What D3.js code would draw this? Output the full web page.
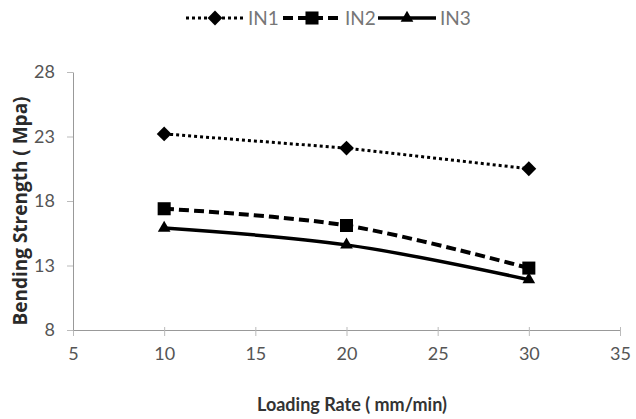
<!DOCTYPE html>
<html>
<head>
<meta charset="utf-8">
<script src="https://cdn.jsdelivr.net/npm/d3@7"></script>
<style>
  body { margin: 0; background: #fff; }
  svg text { font-family: Lato, "Liberation Sans", sans-serif; }
</style>
</head>
<body>
<div id="chart"></div>
<script>
// data
const rates = [10, 20, 30];
const in1 = [23.2, 22.1, 20.5];
const in2 = [17.4, 16.1, 12.8];
const in3 = [15.9, 14.6, 11.9];
const xTicks = [5, 10, 15, 20, 25, 30, 35];
const yTicks = [8, 13, 18, 23, 28];

const W = 636, H = 419;
const margin = {top: 72, right: 16, bottom: 89, left: 73};

const svg = d3.select("#chart")
  .append("svg")
    .attr("width", W)
    .attr("height", H);

const x = d3.scaleLinear().domain([5, 35]).range([margin.left, W - margin.right]);
const y = d3.scaleLinear().domain([8, 28]).range([H - margin.bottom, margin.top]);

// X axis
const gx = svg.append("g")
  .attr("transform", `translate(0, ${y(8)})`)
  .call(d3.axisBottom(x).tickValues(xTicks).tickSize(6).tickSizeOuter(0).tickPadding(11));
gx.select(".domain").attr("stroke", "#999");
gx.selectAll(".tick line").attr("stroke", "#bbb").attr("y1", -3);
gx.selectAll("text").attr("fill", "#555").style("font-size", "18px");

// Y axis
const gy = svg.append("g")
  .attr("transform", `translate(${x(5)}, 0)`)
  .call(d3.axisLeft(y).tickValues(yTicks).tickSize(6).tickSizeOuter(0).tickPadding(12));
gy.select(".domain").attr("stroke", "#999");
gy.selectAll(".tick line").attr("stroke", "#bbb");
gy.selectAll("text").attr("fill", "#555").style("font-size", "18px");

// axis titles
svg.append("text")
  .attr("x", 352)
  .attr("y", 411)
  .attr("text-anchor", "middle")
  .attr("fill", "#333")
  .style("font-size", "18px")
  .style("font-weight", "bold")
  .text("Loading Rate ( mm/min)");

svg.append("text")
  .attr("transform", `translate(27, 211) rotate(-90)`)
  .attr("text-anchor", "middle")
  .attr("fill", "#2a2a2a")
  .style("font-family", "'Open Sans', sans-serif")
  .style("font-size", "19px")
  .style("font-weight", "bold")
  .text("Bending Strength ( Mpa)");

const diamond = {draw(ctx, size) { const r = Math.sqrt(size) / 2 * 1.3; ctx.moveTo(0, -r); ctx.lineTo(r, 0); ctx.lineTo(0, r); ctx.lineTo(-r, 0); ctx.closePath(); }};

const series = [
  {name: "IN1", values: in1, dash: "3,3", width: 3, symbol: diamond, size: 130, curve: d3.curveLinear},
  {name: "IN2", values: in2, dash: "10,5", width: 4, symbol: d3.symbolSquare, size: 170, curve: d3.curveCatmullRom},
  {name: "IN3", values: in3, dash: null, width: 3.5, symbol: d3.symbolTriangle, size: 70, curve: d3.curveCatmullRom}
];

series.forEach(s => {
  const pts = rates.map((r, i) => [r, s.values[i]]);
  svg.append("path")
    .datum(pts)
    .attr("fill", "none")
    .attr("stroke", "#000")
    .attr("stroke-width", s.width)
    .attr("stroke-dasharray", s.dash)
    .attr("d", d3.line().x(d => x(d[0])).y(d => y(d[1])).curve(s.curve));

  svg.selectAll(null)
    .data(pts)
    .join("path")
    .attr("transform", d => `translate(${x(d[0])}, ${y(d[1])})`)
    .attr("d", d3.symbol().type(s.symbol).size(s.size))
    .attr("fill", "#000");
});

// legend
const legendX = [186, 283, 378];
series.forEach((s, i) => {
  const g = svg.append("g").attr("transform", `translate(${legendX[i]}, 18)`);
  g.append("line")
    .attr("x1", 0).attr("x2", 58)
    .attr("stroke", "#000")
    .attr("stroke-width", s.width)
    .attr("stroke-dasharray", s.dash);
  g.append("path")
    .attr("transform", "translate(29, 0)")
    .attr("d", d3.symbol().type(s.symbol).size(s.size))
    .attr("fill", "#000");
  g.append("text")
    .attr("x", 62)
    .attr("y", 7)
    .attr("fill", "#777")
    .style("font-size", "19px")
    .text(s.name);
});
</script>
</body>
</html>
